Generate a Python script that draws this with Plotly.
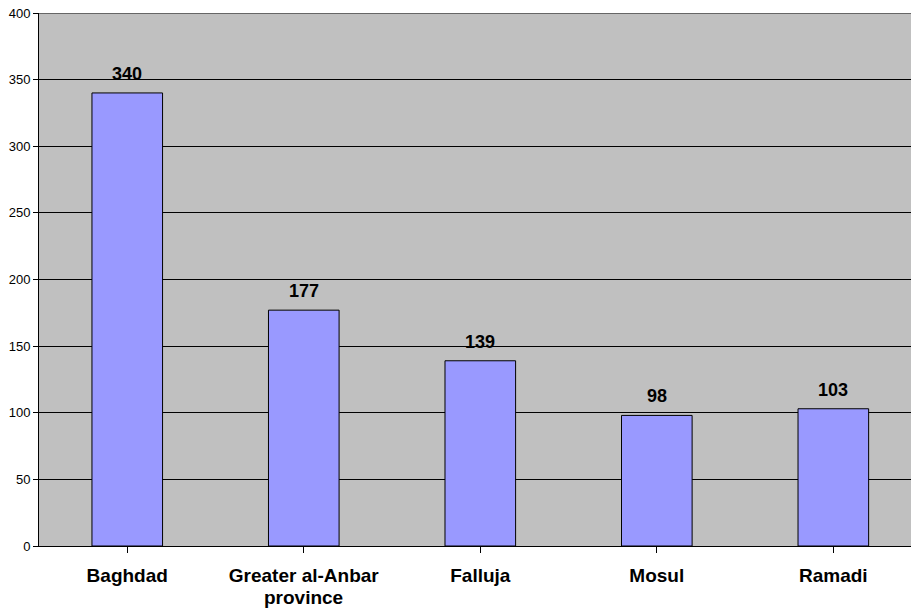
import plotly.graph_objects as go

categories = ["Baghdad", "Greater al-Anbar<br>province", "Falluja", "Mosul", "Ramadi"]
values = [340, 177, 139, 98, 103]
y_ticks = [0, 50, 100, 150, 200, 250, 300, 350, 400]

first_lines = [c.split("<br>")[0] for c in categories]
second_lines = [c.split("<br>")[1] if "<br>" in c else "" for c in categories]

fig = go.Figure()
fig.add_trace(go.Bar(
    x=list(range(len(categories))),
    y=values,
    width=0.4,
    marker=dict(color="#9999FF", line=dict(color="black", width=1)),
    hoverinfo="skip",
))

for i, v in enumerate(values):
    fig.add_annotation(x=i, y=v, text="<b>%d</b>" % v, showarrow=False,
                       yshift=19, font=dict(family="Arial", size=18, color="black"))

for i, s in enumerate(second_lines):
    if s:
        fig.add_annotation(x=i, xref="x", y=0, yref="paper", text="<b>%s</b>" % s,
                           showarrow=False, yanchor="middle", yshift=-51,
                           font=dict(family="Arial", size=19, color="black"))

fig.update_layout(
    width=911, height=610,
    margin=dict(l=39, r=0, t=13, b=64),
    paper_bgcolor="white",
    plot_bgcolor="#C0C0C0",
    showlegend=False,
    font=dict(family="Arial", color="black"),
)
fig.update_xaxes(
    range=[-0.5, 4.44],
    tickmode="array",
    tickvals=list(range(len(categories))),
    ticktext=["<b>%s</b>" % c for c in first_lines],
    tickfont=dict(family="Arial", size=19, color="black"),
    tickson="boundaries",
    ticks="outside", ticklen=6, tickcolor="black",
    showline=True, linecolor="black", linewidth=1,
    showgrid=False, zeroline=False,
    ticklabelstandoff=6,
    automargin=False,
)
fig.update_yaxes(
    range=[0, 400],
    tickvals=y_ticks,
    tickfont=dict(family="Arial", size=13, color="black"),
    ticks="outside", ticklen=5, tickcolor="black",
    showline=True, linecolor="black", linewidth=1,
    showgrid=True, gridcolor="black", gridwidth=1,
    zeroline=False,
    automargin=False,
)
fig.add_shape(type="line", xref="paper", yref="y", x0=0, x1=1, y0=400, y1=400,
              line=dict(color="#666666", width=2))

fig.write_html("out.html", config={"displayModeBar": False},
               post_script="document.body.style.margin='0';")
